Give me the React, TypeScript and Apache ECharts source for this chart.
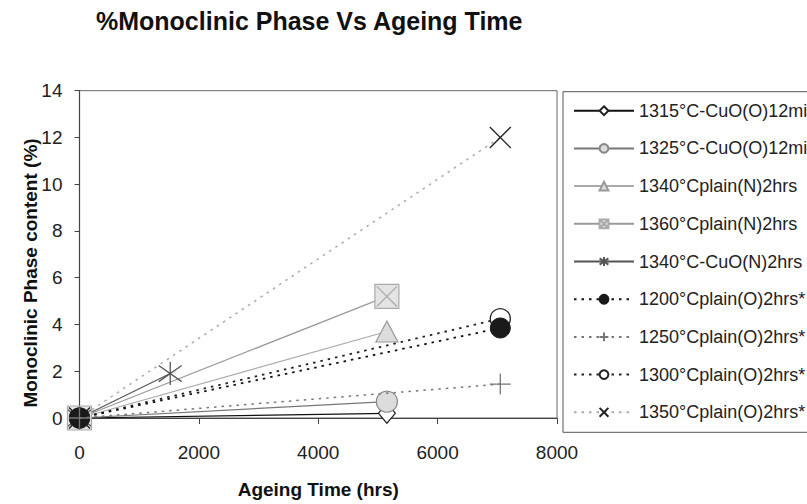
import React, { useEffect, useRef } from "react";
import * as echarts from "echarts";

// ---- data ----
const seriesNames = [
  "1315°C-CuO(O)12min",
  "1325°C-CuO(O)12min",
  "1340°Cplain(N)2hrs",
  "1360°Cplain(N)2hrs",
  "1340°C-CuO(N)2hrs",
  "1200°Cplain(O)2hrs*",
  "1250°Cplain(O)2hrs*",
  "1300°Cplain(O)2hrs*",
  "1350°Cplain(O)2hrs*",
];

const times1315 = [0, 5150];
const times1325 = [0, 5150];
const times1340N = [0, 5150];
const times1360N = [0, 5150];
const times1340CuON = [0, 1520];
const times1200 = [0, 7050];
const times1250 = [0, 7050];
const times1300 = [0, 7050];
const times1350 = [0, 7050];

const phase1315 = [0, 0.2];
const phase1325 = [0, 0.7];
const phase1340N = [0, 3.7];
const phase1360N = [0, 5.2];
const phase1340CuON = [0, 1.9];
const phase1200 = [0, 3.85];
const phase1250 = [0, 1.45];
const phase1300 = [0, 4.25];
const phase1350 = [0, 12];

const xTicks = { min: 0, max: 8000, interval: 2000 };
const yTicks = { min: 0, max: 14, interval: 2 };

const titleText = "%Monoclinic Phase Vs Ageing Time";
const xTitle = "Ageing Time (hrs)";
const yTitle = "Monoclinic Phase content (%)";

const FONT = "'Liberation Sans', Arial, Helvetica, sans-serif";

const SYM_X = "path://M0,0L10,10M10,0L0,10";
const SYM_PLUS = "path://M5,0L5,10M0,5L10,5";
const SYM_AST = "path://M5,0L5,10M0,1.5L10,8.5M10,1.5L0,8.5";
const SYM_SQX = "path://M0,0L10,0L10,10L0,10ZM0.8,0.8L9.2,9.2M9.2,0.8L0.8,9.2";

const pairs = (xs: number[], ys: number[]) => xs.map((x, i) => [x, ys[i]]);

export default function App() {
  const ref = useRef<HTMLDivElement>(null);

  useEffect(() => {
    if (!ref.current) return;
    const chart = echarts.init(ref.current, undefined, { renderer: "svg" });

    const mk = (
      name: string,
      xs: number[],
      ys: number[],
      lineColor: string,
      lineType: any,
      symbol: string,
      size: number | number[],
      fill: string,
      stroke: string,
      bw: number,
      z = 2,
      lw = 1.2
    ) => ({
      type: "line",
      name,
      data: pairs(xs, ys),
      z,
      symbol,
      symbolSize: size,
      symbolKeepAspect: false,
      showAllSymbol: true,
      clip: false,
      lineStyle: { color: lineColor, type: lineType, width: lw },
      itemStyle: { color: fill, borderColor: stroke, borderWidth: bw },
      emphasis: { disabled: true },
    });

    const clear = "rgba(0,0,0,0)";
    const dot = [2.5, 5];

    const series = [
      mk(seriesNames[0], times1315, phase1315, "#111", "solid", "diamond", [17, 20], "#fff", "#222", 1.2),
      mk(seriesNames[1], times1325, phase1325, "#777", "solid", "circle", 21, "#dcdcdc", "#888", 1.2),
      mk(seriesNames[2], times1340N, phase1340N, "#aaa", "solid", "triangle", [22, 21], "#dcdcdc", "#999", 1.2),
      mk(seriesNames[3], times1360N, phase1360N, "#999", "solid", SYM_SQX, 24, "#e4e4e4", "#aaa", 1.2),
      mk(seriesNames[4], times1340CuON, phase1340CuON, "#555", "solid", SYM_AST, 23, clear, "#555", 1.3),
      mk(seriesNames[5], times1200, phase1200, "#111", dot, "circle", 20, "#1a1a1a", "#1a1a1a", 1, 4, 1.8),
      mk(seriesNames[6], times1250, phase1250, "#777", dot, SYM_PLUS, 21, clear, "#777", 1.3, 5, 1.5),
      mk(seriesNames[7], times1300, phase1300, "#222", dot, "circle", 20, "#fff", "#222", 1.3, 3, 1.8),
      mk(seriesNames[8], times1350, phase1350, "#aaa", dot, SYM_X, 21, clear, "#222", 1.3, 2, 1.5),
    ];

    chart.setOption({
      animation: false,
      backgroundColor: "#fff",
      title: {
        text: titleText,
        left: 96,
        top: 8,
        padding: 0,
        textStyle: { fontFamily: FONT, fontSize: 25, fontWeight: "bold", color: "#111" },
      },
      grid: {
        left: 79.5,
        top: 90.7,
        width: 477.5,
        height: 333.6,
        show: true,
        borderColor: "#666",
        borderWidth: 1,
        backgroundColor: "#fff",
        containLabel: false,
      },
      legend: {
        orient: "vertical",
        left: 563,
        top: 91.7,
        data: seriesNames,
        itemWidth: 60,
        itemHeight: 11,
        itemGap: 19.7,
        padding: [10, 10, 11, 10],
        borderColor: "#555",
        borderWidth: 1,
        selectedMode: false,
        textStyle: { fontFamily: FONT, fontSize: 18, color: "#222", lineHeight: 18 },
      },
      xAxis: {
        type: "value",
        min: xTicks.min,
        max: xTicks.max,
        interval: xTicks.interval,
        name: xTitle,
        nameLocation: "middle",
        nameGap: 62,
        nameTextStyle: { fontFamily: FONT, fontSize: 19, fontWeight: "bold", color: "#111" },
        splitLine: { show: false },
        axisLine: { show: true, onZero: false, lineStyle: { color: "#444", width: 1.2 } },
        axisTick: { show: true, length: 6, inside: false, lineStyle: { color: "#444" } },
        axisLabel: {
          fontFamily: FONT,
          fontSize: 19,
          color: "#222",
          margin: 25,
          formatter: (v: number) => String(v),
        },
      },
      yAxis: {
        type: "value",
        min: yTicks.min,
        max: yTicks.max,
        interval: yTicks.interval,
        splitLine: { show: false },
        axisLine: { show: true, onZero: false, lineStyle: { color: "#444", width: 1.2 } },
        axisTick: { show: true, length: 5, inside: false, lineStyle: { color: "#444" } },
        axisLabel: {
          fontFamily: FONT,
          fontSize: 19,
          color: "#222",
          margin: 17,
          formatter: (v: number) => String(v),
        },
      },
      graphic: [
        {
          type: "text",
          x: 30,
          y: 273,
          rotation: Math.PI / 2,
          style: {
            text: yTitle,
            fontFamily: FONT,
            fontSize: 19,
            fontWeight: "bold",
            fill: "#111",
            align: "center",
            verticalAlign: "middle",
          },
        },
      ],
      series,
    });

    return () => chart.dispose();
  }, []);

  return (
    <div style={{ position: "fixed", left: 0, top: 0, width: 807, height: 504, overflow: "hidden", background: "#fff" }}>
      <div ref={ref} style={{ width: 1000, height: 504 }} />
    </div>
  );
}
